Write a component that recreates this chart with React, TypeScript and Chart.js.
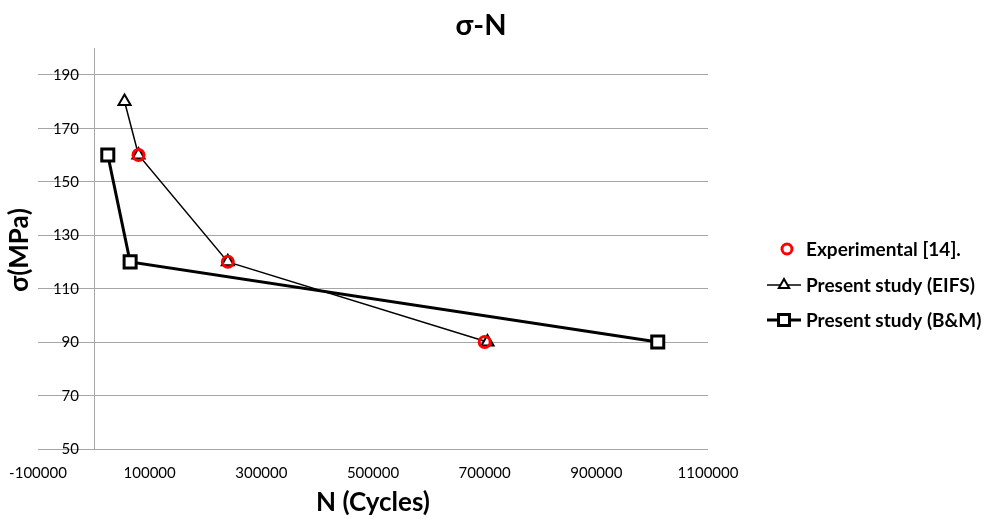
import React, { useEffect, useRef } from "react";
import { Chart, registerables } from "chart.js";

Chart.register(...registerables);

const TITLE = "σ-N";
const X_TITLE = "N (Cycles)";
const Y_TITLE = "σ(MPa)";

const X_TICKS = [-100000, 100000, 300000, 500000, 700000, 900000, 1100000];
const Y_TICKS = [50, 70, 90, 110, 130, 150, 170, 190];
const Y_AXIS_AT_X = 0;

const EXP_N = [80000, 240000, 700000];
const EXP_S = [160, 120, 90];

const EIFS_N = [55000, 80000, 240000, 705000];
const EIFS_S = [180, 160, 120, 90];

const BM_N = [25000, 65000, 1010000];
const BM_S = [160, 120, 90];

const LABELS = ["Experimental [14].", "Present study (EIFS)", "Present study (B&M)"];

const FONT = "Lato, 'Open Sans', sans-serif";
const GRID = "#a6a6a6";

function pts(xs: number[], ys: number[]) {
  return xs.map((x, i) => ({ x, y: ys[i] }));
}

function drawTriangle(ctx: CanvasRenderingContext2D, x: number, y: number, r: number) {
  ctx.beginPath();
  for (let k = 0; k < 3; k++) {
    const a = -Math.PI / 2 + (k * 2 * Math.PI) / 3;
    const px = x + Math.cos(a) * r;
    const py = y + Math.sin(a) * r;
    if (k === 0) ctx.moveTo(px, py);
    else ctx.lineTo(px, py);
  }
  ctx.closePath();
}

// vertical axis line at x = 0 and its tick labels, placed through the chart's scales
const yAxisPlugin = {
  id: "yAxisAtZero",
  beforeDatasetsDraw(chart: any) {
    const ctx: CanvasRenderingContext2D = chart.ctx;
    const area = chart.chartArea;
    const xs = chart.scales.x;
    const ys = chart.scales.y;
    const px = Math.round(xs.getPixelForValue(Y_AXIS_AT_X)) + 0.5;
    ctx.save();
    ctx.strokeStyle = GRID;
    ctx.lineWidth = 1;
    ctx.beginPath();
    ctx.moveTo(px, area.top);
    ctx.lineTo(px, area.bottom);
    ctx.stroke();
    ctx.fillStyle = "#000";
    ctx.font = `15px ${FONT}`;
    ctx.textAlign = "right";
    ctx.textBaseline = "middle";
    ys.ticks.forEach((t: any) => {
      ctx.fillText(String(t.value), px - 15.5, ys.getPixelForValue(t.value) + 0.5);
    });
    ctx.restore();
  },
};

const textPlugin = {
  id: "customText",
  afterDraw(chart: any) {
    const ctx: CanvasRenderingContext2D = chart.ctx;
    const area = chart.chartArea;
    ctx.save();
    ctx.fillStyle = "#000";
    ctx.textAlign = "center";
    ctx.textBaseline = "middle";
    ctx.font = `bold 29px ${FONT}`;
    ctx.fillText(TITLE, 481, 26);
    ctx.font = `bold 26px ${FONT}`;
    ctx.fillText(X_TITLE, (area.left + area.right) / 2, 503);
    ctx.save();
    ctx.translate(20, 250);
    ctx.rotate(-Math.PI / 2);
    ctx.font = `bold 26px ${FONT}`;
    ctx.fillText(Y_TITLE, 0, 0);
    ctx.restore();

    // legend
    const lx0 = 767;
    const lx1 = 801;
    const mx = 784;
    const tx = 806;
    const ys = [249, 285, 320];
    ctx.textAlign = "left";
    ctx.font = `bold 19px ${FONT}`;
    // experimental
    ctx.strokeStyle = "#ff0000";
    ctx.lineWidth = 3;
    ctx.beginPath();
    ctx.arc(mx + 3, ys[0], 5, 0, Math.PI * 2);
    ctx.stroke();
    // EIFS
    ctx.strokeStyle = "#000";
    ctx.lineWidth = 1.5;
    ctx.beginPath();
    ctx.moveTo(lx0, ys[1]);
    ctx.lineTo(lx1, ys[1]);
    ctx.stroke();
    ctx.fillStyle = "#fff";
    drawTriangle(ctx, mx, ys[1], 6);
    ctx.fill();
    ctx.lineWidth = 2;
    ctx.stroke();
    // B&M
    ctx.lineWidth = 3;
    ctx.beginPath();
    ctx.moveTo(lx0, ys[2]);
    ctx.lineTo(lx1, ys[2]);
    ctx.stroke();
    ctx.fillStyle = "#fff";
    ctx.beginPath();
    ctx.rect(mx - 5.5, ys[2] - 5.5, 11, 11);
    ctx.fill();
    ctx.stroke();

    ctx.fillStyle = "#000";
    LABELS.forEach((l, i) => ctx.fillText(l, tx, ys[i] + 1));
    ctx.restore();
  },
};

export default function App() {
  const ref = useRef<HTMLCanvasElement | null>(null);
  useEffect(() => {
    if (!ref.current) return;
    const chart = new Chart(ref.current, {
      type: "scatter",
      data: {
        datasets: [
          {
            label: LABELS[0],
            data: pts(EXP_N, EXP_S),
            showLine: false,
            pointStyle: "circle",
            pointRadius: 5.5,
            pointBorderWidth: 3,
            borderColor: "#ff0000",
            backgroundColor: "rgba(0,0,0,0)",
          },
          {
            label: LABELS[1],
            data: pts(EIFS_N, EIFS_S),
            showLine: true,
            borderColor: "#000",
            borderWidth: 1.5,
            pointStyle: "triangle",
            pointRadius: 7,
            pointBorderWidth: 2,
            pointBackgroundColor: "#fff",
            pointBorderColor: "#000",
          },
          {
            label: LABELS[2],
            data: pts(BM_N, BM_S),
            showLine: true,
            borderColor: "#000",
            borderWidth: 3,
            pointStyle: "rect",
            pointRadius: 8.5,
            pointBorderWidth: 3,
            pointBackgroundColor: "#fff",
            pointBorderColor: "#000",
          },
        ],
      },
      options: {
        animation: false,
        responsive: true,
        maintainAspectRatio: false,
        layout: { padding: { left: 38, right: 281, top: 48, bottom: 0 } },
        plugins: {
          legend: { display: false },
          title: { display: false },
          tooltip: { enabled: false },
        },
        scales: {
          x: {
            type: "linear",
            position: "bottom",
            min: -100000,
            max: 1100000,
            afterBuildTicks: (s: any) => {
              s.ticks = X_TICKS.map((v) => ({ value: v }));
            },
            afterFit: (s: any) => {
              s.height = 70;
              s.paddingLeft = 0;
              s.paddingRight = 0;
            },
            grid: { display: false, drawTicks: false },
            border: { display: false },
            ticks: {
              padding: 15,
              color: "#000",
              font: { family: FONT, size: 15 },
              maxRotation: 0,
              autoSkip: false,
              callback: (v: any) => String(v),
            },
          },
          y: {
            type: "linear",
            position: "left",
            min: 50,
            max: 200,
            afterBuildTicks: (s: any) => {
              s.ticks = Y_TICKS.map((v) => ({ value: v }));
            },
            afterFit: (s: any) => {
              s.width = 0;
              s.paddingTop = 0;
              s.paddingBottom = 0;
              s.paddingLeft = 0;
              s.paddingRight = 0;
            },
            grid: { color: GRID, lineWidth: 1, drawTicks: false },
            border: { display: false },
            ticks: { display: false },
          },
        },
      },
      plugins: [yAxisPlugin, textPlugin],
    });
    return () => chart.destroy();
  }, []);
  return (
    <div style={{ position: "fixed", left: 0, top: 0, width: 989, height: 519, background: "#fff" }}>
      <canvas ref={ref} />
    </div>
  );
}
